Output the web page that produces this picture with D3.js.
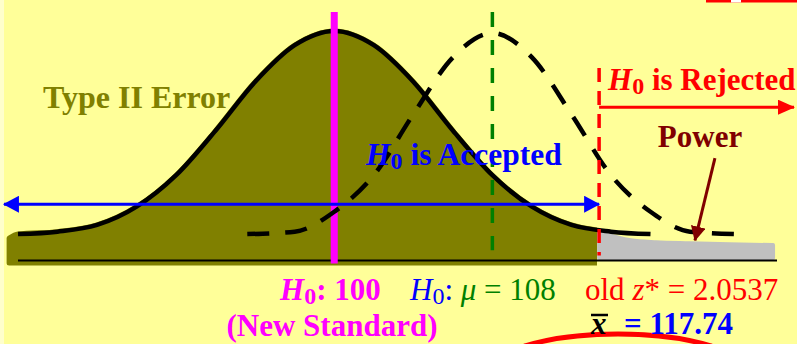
<!DOCTYPE html>
<html>
<head>
<meta charset="utf-8">
<script src="https://cdn.jsdelivr.net/npm/d3@7"></script>
<style>
  html, body { margin: 0; padding: 0; background: #FFFF99; }
  svg { display: block; }
  text { font-family: "Liberation Serif", "Times New Roman", serif; }
</style>
</head>
<body>
<svg id="chart" width="797" height="344"></svg>
<script>
/**
 * Data (x in units of the sample mean, heights relative to the peak).
 */
const nullX = [84, 86, 88, 90, 92, 94, 96, 98, 100, 102, 104, 106, 108, 110, 112, 114, 116];
const nullHeight = [0, 0.012, 0.045, 0.135, 0.29, 0.51, 0.75, 0.93, 1.0, 0.93, 0.75, 0.51, 0.29, 0.135, 0.045, 0.012, 0];

const altX = [95.6, 98, 100, 102, 104, 106, 108, 110, 112, 114, 116, 118, 120.4];
const altHeight = [0, 0.012, 0.11, 0.29, 0.59, 0.87, 0.99, 0.87, 0.59, 0.29, 0.11, 0.012, 0];

const powerX = [113.4, 115, 116.3, 118, 120, 122.2];
const powerTop = [0.01, -0.03, -0.04, -0.045, -0.05, -0.054];

const h0Mean = 100, altMean = 108, cutoff = 113.4;
const shadeStart = 83.55; // left edge of the hand-drawn Type II shading

/**
 * Visual configs.
 */
const svg = d3.select('#chart');
const xScale = d3.scaleLinear().domain([84, 122.4]).range([18, 777]);
const yScale = d3.scaleLinear().domain([-0.13, 1]).range([260.5, 31]);

const nullPts = nullX.map((x, i) => ({ x, h: nullHeight[i] }));
const altPts = altX.map((x, i) => ({ x, h: altHeight[i] }));
const powerPts = powerX.map((x, i) => ({ x, h: powerTop[i] }));

const line = d3.line().x(d => xScale(d.x)).y(d => yScale(d.h)).curve(d3.curveMonotoneX);

// arrow markers
const defs = svg.append('defs');
[['blueHead', '#0000FF', 16, 17], ['redHead', '#FF0000', 17, 15], ['powerHead', '#800000', 15, 15]]
    .forEach(([id, color, len, wid]) => {
        defs.append('marker')
            .attr('id', id)
            .attr('markerUnits', 'userSpaceOnUse')
            .attr('viewBox', `0 0 ${len} ${wid}`)
            .attr('markerWidth', len).attr('markerHeight', wid)
            .attr('refX', len - 1).attr('refY', wid / 2)
            .attr('orient', 'auto-start-reverse')
            .append('path')
                .attr('d', `M0,0L${len},${wid / 2}L0,${wid}Z`)
                .attr('fill', color);
    });
defs.append('clipPath').attr('id', 'typeIIClip')
    .append('rect')
        .attr('x', 0).attr('y', 0)
        .attr('width', xScale(cutoff) - 2).attr('height', 344);

// light strip on the left edge
svg.append('rect').attr('x', 0).attr('y', 0).attr('width', 4).attr('height', 344).attr('fill', '#FFFFCC');

// top-right remnants
svg.append('rect').attr('x', 706).attr('y', 0).attr('width', 91).attr('height', 2.5).attr('fill', '#FF0000');
svg.append('rect').attr('x', 731).attr('y', 0).attr('width', 10).attr('height', 2.5).attr('fill', '#FFFFFF');

/**
 * Shaded areas.
 */
const shadeArea = d3.area().x(d => xScale(d.x)).y1(d => yScale(d.h)).y0(yScale(-0.142)).curve(d3.curveMonotoneX);
svg.append('path')
    .datum([{ x: shadeStart, h: -0.02 }].concat(nullPts))
    .attr('clip-path', 'url(#typeIIClip)')
    .attr('d', shadeArea)
    .attr('fill', '#808000')
    .attr('stroke', '#808000')
    .attr('stroke-width', 5)
    .attr('stroke-linejoin', 'round');

const powerArea = d3.area().x(d => xScale(d.x)).y1(d => yScale(d.h)).y0(yScale(-0.118)).curve(d3.curveMonotoneX);
svg.append('path')
    .datum(powerPts)
    .attr('d', powerArea)
    .attr('fill', '#C0C0C0')
    .attr('stroke', '#C0C0C0')
    .attr('stroke-width', 4)
    .attr('stroke-linejoin', 'round');

// baseline
svg.append('line')
    .attr('x1', xScale.range()[0]).attr('x2', xScale.range()[1])
    .attr('y1', yScale(-0.13)).attr('y2', yScale(-0.13))
    .attr('stroke', '#000').attr('stroke-width', 2);

/**
 * Curves and reference lines.
 */
svg.append('path').datum(nullPts)
    .attr('d', line).attr('fill', 'none')
    .attr('stroke', '#000').attr('stroke-width', 4.5);

svg.append('line')
    .attr('x1', xScale(h0Mean)).attr('x2', xScale(h0Mean))
    .attr('y1', yScale(1.094)).attr('y2', yScale(-0.145))
    .attr('stroke', '#FF00FF').attr('stroke-width', 7);

svg.append('line')
    .attr('x1', xScale(altMean)).attr('x2', xScale(altMean))
    .attr('y1', yScale(1.094)).attr('y2', yScale(-0.08))
    .attr('stroke', '#008000').attr('stroke-width', 3.5)
    .attr('stroke-dasharray', '15,13');

svg.append('path').datum(altPts)
    .attr('d', line).attr('fill', 'none')
    .attr('stroke', '#000').attr('stroke-width', 4.5)
    .attr('stroke-dasharray', '22,16');

svg.append('line')
    .attr('x1', xScale(cutoff)).attr('x2', xScale(cutoff))
    .attr('y1', yScale(0.818)).attr('y2', yScale(-0.105))
    .attr('stroke', '#FF0000').attr('stroke-width', 3.5)
    .attr('stroke-dasharray', '14,9');

/**
 * Arrows.
 */
svg.append('line')
    .attr('x1', xScale(83.29)).attr('x2', xScale(cutoff))
    .attr('y1', yScale(0.147)).attr('y2', yScale(0.147))
    .attr('stroke', '#0000FF').attr('stroke-width', 3)
    .attr('marker-start', 'url(#blueHead)').attr('marker-end', 'url(#blueHead)');

svg.append('line')
    .attr('x1', xScale(cutoff)).attr('x2', xScale(123.26))
    .attr('y1', yScale(0.625)).attr('y2', yScale(0.625))
    .attr('stroke', '#FF0000').attr('stroke-width', 3)
    .attr('marker-end', 'url(#redHead)');

svg.append('line')
    .attr('x1', xScale(119.26)).attr('y1', yScale(0.374))
    .attr('x2', xScale(118.25)).attr('y2', yScale(-0.031))
    .attr('stroke', '#800000').attr('stroke-width', 3)
    .attr('marker-end', 'url(#powerHead)');

// red ellipse peeking in at the bottom
svg.append('ellipse')
    .attr('cx', 618).attr('cy', 374).attr('rx', 130).attr('ry', 40)
    .attr('fill', 'none').attr('stroke', '#FF0000').attr('stroke-width', 5);

/**
 * Labels.
 */
function label(x, y, color, bold, size) {
    return svg.append('text').attr('x', x).attr('y', y).attr('fill', color)
        .style('font-size', size + 'px')
        .style('font-weight', bold ? 'bold' : 'normal');
}

function h0Label(x, y, color, bold, size) {
    const t = label(x, y, color, bold, size);
    t.append('tspan').style('font-style', 'italic').text('H');
    t.append('tspan').style('font-size', Math.round(size * 0.76) + 'px').attr('dy', 4).text('0');
    return t;
}

const rej = h0Label(608, 90, '#FF0000', true, 31);
rej.append('tspan').attr('dy', -4).text(' is Rejected');

const acc = h0Label(366, 165, '#0000FF', true, 31.5);
acc.append('tspan').attr('dy', -4).text(' is Accepted');

label(43, 108, '#808000', true, 32).text('Type II Error');

label(700, 147, '#800000', true, 31).attr('text-anchor', 'middle').text('Power');

const h0 = h0Label(280, 300, '#FF00FF', true, 31);
h0.append('tspan').attr('dy', -4).text(': 100');

label(332, 336, '#FF00FF', true, 31).attr('text-anchor', 'middle').text('(New Standard)');

const mu = h0Label(410, 300, '#0000FF', false, 31);
mu.append('tspan').attr('dy', -4).text(': ');
mu.append('tspan').attr('fill', '#008000').style('font-style', 'italic').text('\u03bc');
mu.append('tspan').attr('fill', '#008000').text(' = 108');

const z = label(585, 300, '#FF0000', false, 31);
z.append('tspan').text('old ');
z.append('tspan').style('font-style', 'italic').text('z');
z.append('tspan').text('* = 2.0537');

label(591, 334, '#000', true, 31).style('font-style', 'italic').text('x');
svg.append('line').attr('x1', 591).attr('x2', 608).attr('y1', 315).attr('y2', 315)
    .attr('stroke', '#000').attr('stroke-width', 2.5);
label(624, 334, '#0000FF', true, 31).text('= 117.74');
</script>
</body>
</html>
